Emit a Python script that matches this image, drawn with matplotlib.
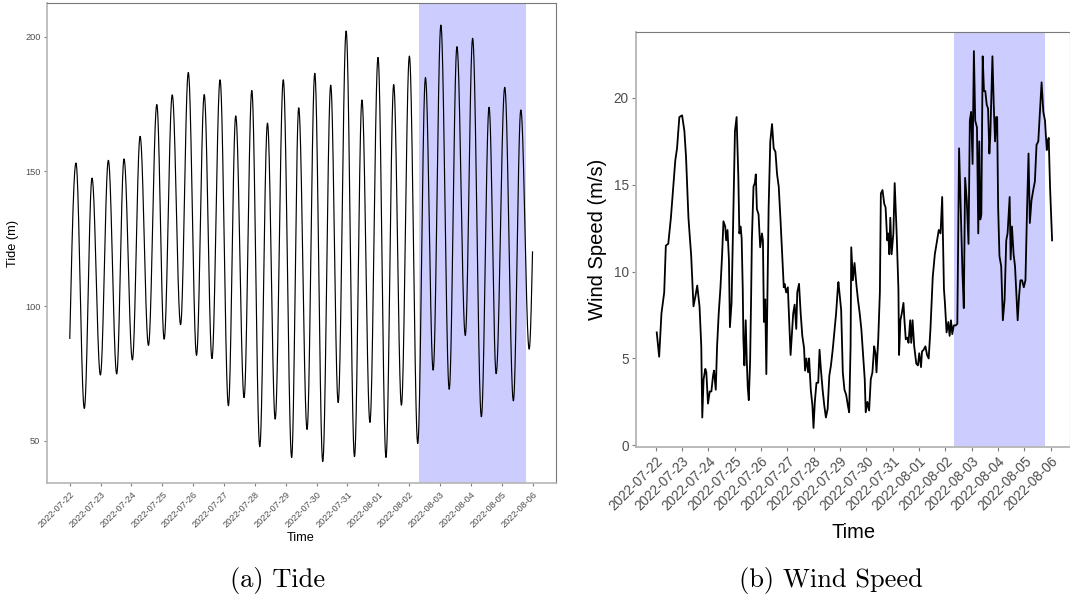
import numpy as np
import pandas as pd
import matplotlib
matplotlib.use("Agg")
import matplotlib.pyplot as plt
import matplotlib.dates as mdates

plt.rcParams["font.family"] = ["Liberation Sans", "DejaVu Sans"]

START = pd.Timestamp("2022-07-22 00:00")
END = pd.Timestamp("2022-08-06 00:00")
HIGHLIGHT = (pd.Timestamp("2022-08-02 08:00"), pd.Timestamp("2022-08-05 19:00"))

# Tide: high / low water turning points (hours after start, level in m)
tide_hours = [0.0, 4.8, 11.3, 17.3, 23.8, 30.0, 36.5, 42.2, 48.7, 54.7, 61.2,
              67.7, 73.4, 79.7, 86.2, 92.2, 98.6, 104.6, 110.6, 116.9, 123.4,
              129.1, 135.6, 141.6, 147.8, 153.8, 159.8, 166.1, 172.6, 178.1,
              184.6, 190.6, 196.8, 203.0, 208.8, 215.0, 221.5, 227.3, 233.5,
              239.8, 246.0, 252.0, 258.0, 264.2, 270.7, 276.7, 282.7, 288.7,
              295.2, 301.2, 307.7, 313.4, 320.2, 326.2, 331.7, 338.4, 345.1,
              350.9, 357.4, 360.0]
tide_level = [88.0, 153.1, 62.0, 147.5, 74.4, 154.1, 74.8, 154.6, 80.0, 163.0,
              85.4, 174.8, 87.7, 178.4, 93.1, 186.7, 81.7, 178.5, 80.5, 184.0,
              63.0, 170.6, 66.0, 180.0, 47.8, 167.9, 58.0, 184.0, 43.8, 173.6,
              54.2, 186.4, 42.3, 182.0, 64.2, 202.1, 44.1, 176.5, 56.8, 192.3,
              43.8, 182.2, 63.2, 192.8, 49.0, 184.8, 76.2, 204.3, 69.1, 196.3,
              89.1, 199.4, 58.9, 173.8, 74.9, 181.2, 64.8, 172.8, 84.0, 120.1]

# Wind speed observations (hours after start, m/s)
wind_hours = [0.9, 3.1, 5.2, 6.8, 7.7, 9.2, 11.4, 13.8, 16.0, 17.8, 19.4, 21.5,
              24.0, 26.1, 27.6, 29.8, 32.3, 34.4, 36.2, 37.8, 39.9, 41.5, 42.4,
              43.6, 45.2, 46.1, 47.6, 49.2, 50.7, 52.2, 53.1, 54.7, 55.9, 57.4,
              59.0, 60.5, 61.7, 63.3, 64.2, 65.4, 66.7, 67.6, 69.1, 70.6, 72.2,
              73.7, 75.3, 76.2, 77.4, 78.3, 79.3, 79.9, 80.8, 82.0, 82.9, 83.9,
              84.8, 86.0, 86.9, 87.6, 89.1, 90.3, 91.2, 92.2, 93.7, 95.2, 96.8,
              97.7, 98.6, 99.8, 100.8, 102.9, 104.4, 106.0, 107.5, 109.1, 110.6,
              112.1, 113.7, 115.2, 116.7, 117.4, 118.9, 120.4, 122.9, 125.3,
              126.6, 128.1, 129.0, 130.6, 132.1, 133.6, 135.2, 136.1, 137.3,
              138.9, 139.8, 141.3, 142.8, 143.8, 145.0, 146.5, 148.1, 149.3,
              150.5, 152.1, 153.6, 155.1, 156.7, 158.2, 159.7, 161.3, 162.8,
              164.4, 165.9, 166.5, 169.0, 170.5, 172.0, 173.6, 175.1, 176.3,
              177.6, 178.2, 179.7, 181.2, 182.8, 184.3, 185.9, 187.4, 188.9,
              190.5, 191.4, 192.9, 194.5, 196.0, 197.5, 199.1, 200.3, 201.2,
              202.8, 204.3, 205.2, 206.7, 208.3, 209.5, 211.0, 212.0, 212.9,
              213.8, 215.0, 216.6, 217.8, 219.6, 221.2, 221.8, 223.0, 224.3,
              225.8, 226.7, 227.9, 229.5, 230.4, 231.9, 232.9, 234.1, 235.6,
              237.5, 239.0, 240.2, 241.8, 242.7, 244.2, 245.8, 247.3, 248.8,
              250.4, 251.9, 252.5, 254.4, 256.5, 258.0, 259.6, 261.1, 262.7,
              263.6, 265.1, 266.7, 267.9, 269.1, 270.3, 271.6, 273.4, 274.9,
              276.5, 278.0, 279.6, 280.8, 282.0, 283.5, 285.1, 286.3, 287.5,
              288.8, 290.0, 291.2, 292.8, 294.0, 294.9, 295.8, 296.8, 298.0,
              299.2, 300.4, 301.7, 302.9, 304.1, 305.0, 306.9, 308.1, 309.3,
              310.3, 311.2, 312.1, 313.3, 314.9, 316.4, 318.0, 319.5, 320.7,
              322.6, 323.5, 324.7, 326.2, 327.5, 328.7, 329.9, 331.2, 332.4,
              333.9, 335.5, 337.0, 338.5, 339.8, 341.0, 342.5, 344.1, 345.6,
              347.1, 348.7, 350.2, 351.7, 353.3, 354.8, 356.4, 357.3, 358.2,
              359.4, 361.3]
wind_speed = [6.5, 5.1, 7.6, 8.4, 8.8, 11.5, 11.6, 13.1, 14.9, 16.4, 17.1, 18.9,
              19.0, 18.1, 16.6, 13.1, 10.9, 8.0, 8.6, 9.2, 8.0, 5.7, 1.6,
              3.8, 4.4, 4.2, 2.4, 3.1, 3.1, 4.0, 4.3, 3.2, 5.7, 7.6,
              9.1, 11.0, 12.9, 12.6, 11.8, 12.4, 10.7, 6.8, 8.2, 13.1, 18.1,
              18.9, 15.4, 12.2, 12.6, 11.9, 9.0, 6.1, 4.6, 7.2, 5.0, 3.3,
              2.6, 4.8, 8.4, 11.8, 14.9, 15.1, 15.6, 13.6, 13.3, 11.4, 12.2,
              11.8, 7.1, 8.4, 4.1, 13.7, 17.5, 18.5, 17.1, 16.9, 15.6,
              14.9, 13.0, 11.0, 9.1, 9.3, 8.8, 9.1, 5.2, 7.6,
              8.1, 6.7, 8.8, 9.3, 7.6, 6.3, 5.6, 4.3, 5.0,
              4.2, 5.0, 3.2, 2.3, 1.0, 2.5, 3.6, 3.6, 5.5,
              4.4, 3.2, 2.3, 1.6, 2.1, 4.0, 4.6, 5.5, 6.5,
              7.6, 9.0, 9.4, 7.8, 4.2, 3.2, 2.9, 2.3, 1.9,
              5.7, 11.4, 9.5, 10.5, 9.3, 8.4, 7.6, 6.7, 5.3,
              3.8, 1.9, 2.5, 2.0, 3.8, 4.2, 5.7, 5.3, 4.2,
              6.1, 8.8, 14.5, 14.7, 13.9, 13.7, 11.8, 12.2, 11.0,
              13.1, 11.0, 12.2, 15.1, 12.2, 9.0, 5.2, 7.2, 7.6,
              8.2, 7.2, 6.1, 6.2, 5.9, 7.2, 5.9, 7.2, 5.7,
              4.7, 4.6, 5.3, 4.5, 5.4, 5.5, 5.7, 5.2, 5.0,
              6.7, 8.8, 9.7, 11.0, 11.8, 12.4, 12.2, 14.3, 9.0,
              8.2, 6.5, 7.1, 6.3, 7.2, 6.4, 6.9, 6.9, 7.0,
              17.1, 13.7, 9.9, 7.9, 15.4, 14.1, 11.6, 18.7, 19.2,
              16.2, 22.7, 18.7, 18.3, 12.2, 17.5, 13.0, 13.3, 22.4,
              20.4, 20.4, 19.6, 19.4, 16.8, 17.9, 22.4, 19.6, 17.5,
              18.9, 18.9, 13.7, 10.9, 10.3, 7.2, 8.4, 11.8, 12.2,
              14.3, 10.7, 12.6, 11.0, 10.3, 8.8, 7.2, 8.6, 9.5,
              9.5, 9.1, 9.5, 13.7, 16.8, 12.8, 14.1, 14.7, 15.2,
              17.3, 17.5, 19.2, 20.9, 19.2, 18.7, 17.0, 17.5, 17.7,
              14.9, 11.8]


def tide_curve(hours, levels, n=40):
    """Shape each rise/fall between high and low water as a half cosine."""
    t_out, v_out = [], []
    last = len(hours) - 2
    for i in range(len(hours) - 1):
        t0, t1 = hours[i], hours[i + 1]
        v0, v1 = levels[i], levels[i + 1]
        s = np.linspace(0.0, 1.0, n, endpoint=(i == last))
        if i == 0:
            w = np.sin(0.5 * np.pi * s)
        elif i == last:
            w = 1.0 - np.cos(0.5 * np.pi * s)
        else:
            w = 0.5 * (1.0 - np.cos(np.pi * s))
        t_out.append(t0 + (t1 - t0) * s)
        v_out.append(v0 + (v1 - v0) * w)
    return np.concatenate(t_out), np.concatenate(v_out)


tide_t, tide_v = tide_curve(tide_hours, tide_level)
tide_time = START + pd.to_timedelta(tide_t, unit="h")
wind_time = START + pd.to_timedelta(np.asarray(wind_hours), unit="h")

day_ticks = pd.date_range(START, END, freq="D")
pad = pd.Timedelta(days=0.75)

fig = plt.figure(figsize=(10.70, 5.99), dpi=100)
ax1 = fig.add_axes([0.0436, 0.1932, 0.4757, 0.8013])
ax2 = fig.add_axes([0.5944, 0.2543, 0.4060, 0.6923])

TICK_GREY = "#4d4d4d"


def style_axes(ax, tick_size, lw_axis, tick_len):
    for side in ("left", "bottom"):
        ax.spines[side].set_color("#b5b5b5")
        ax.spines[side].set_linewidth(lw_axis)
    for side in ("top", "right"):
        ax.spines[side].set_color("#7a7a7a")
        ax.spines[side].set_linewidth(0.8)
    ax.tick_params(axis="both", direction="out", length=tick_len, width=0.8,
                   color="#7f7f7f", labelcolor=TICK_GREY, labelsize=tick_size,
                   pad=2)
    ax.xaxis.set_major_formatter(mdates.DateFormatter("%Y-%m-%d"))
    ax.set_xticks(day_ticks)
    ax.set_xlim(START - pad, END + pad)
    for lab in ax.get_xticklabels():
        lab.set_rotation(45)
        lab.set_ha("right")
        lab.set_va("top")
        lab.set_rotation_mode("anchor")


# (a) Tide
ax1.axvspan(HIGHLIGHT[0], HIGHLIGHT[1], color="#ccccff", lw=0, zorder=1)
ax1.plot(tide_time, tide_v, color="black", lw=0.85, zorder=3)
ax1.set_ylim(34.2, 212.4)
ax1.set_yticks([50, 100, 150, 200])
style_axes(ax1, 6.6, 1.2, 2.5)
ax1.set_xlabel("Time", fontsize=9.2, labelpad=2)
ax1.set_ylabel("Tide (m)", fontsize=9.2, labelpad=4)

# (b) Wind speed
ax2.axvspan(HIGHLIGHT[0], HIGHLIGHT[1], color="#ccccff", lw=0, zorder=1)
ax2.plot(wind_time, wind_speed, color="black", lw=1.3, zorder=3)
ax2.set_ylim(-0.08, 23.8)
ax2.set_yticks([0, 5, 10, 15, 20])
style_axes(ax2, 9.8, 1.3, 3.2)
ax2.set_xlabel("Time", fontsize=14.5, labelpad=7)
ax2.set_ylabel("Wind Speed (m/s)", fontsize=14.5, labelpad=5)

# Sub-figure captions
fig.text(278 / 1070, 1 - 581 / 599, "(a) Tide", fontsize=19, family="cmr10",
         ha="center", va="center")
fig.text(831 / 1070, 1 - 581 / 599, "(b) Wind Speed", fontsize=19,
         family="cmr10", ha="center", va="center")

fig.savefig("out.png", dpi=100)
